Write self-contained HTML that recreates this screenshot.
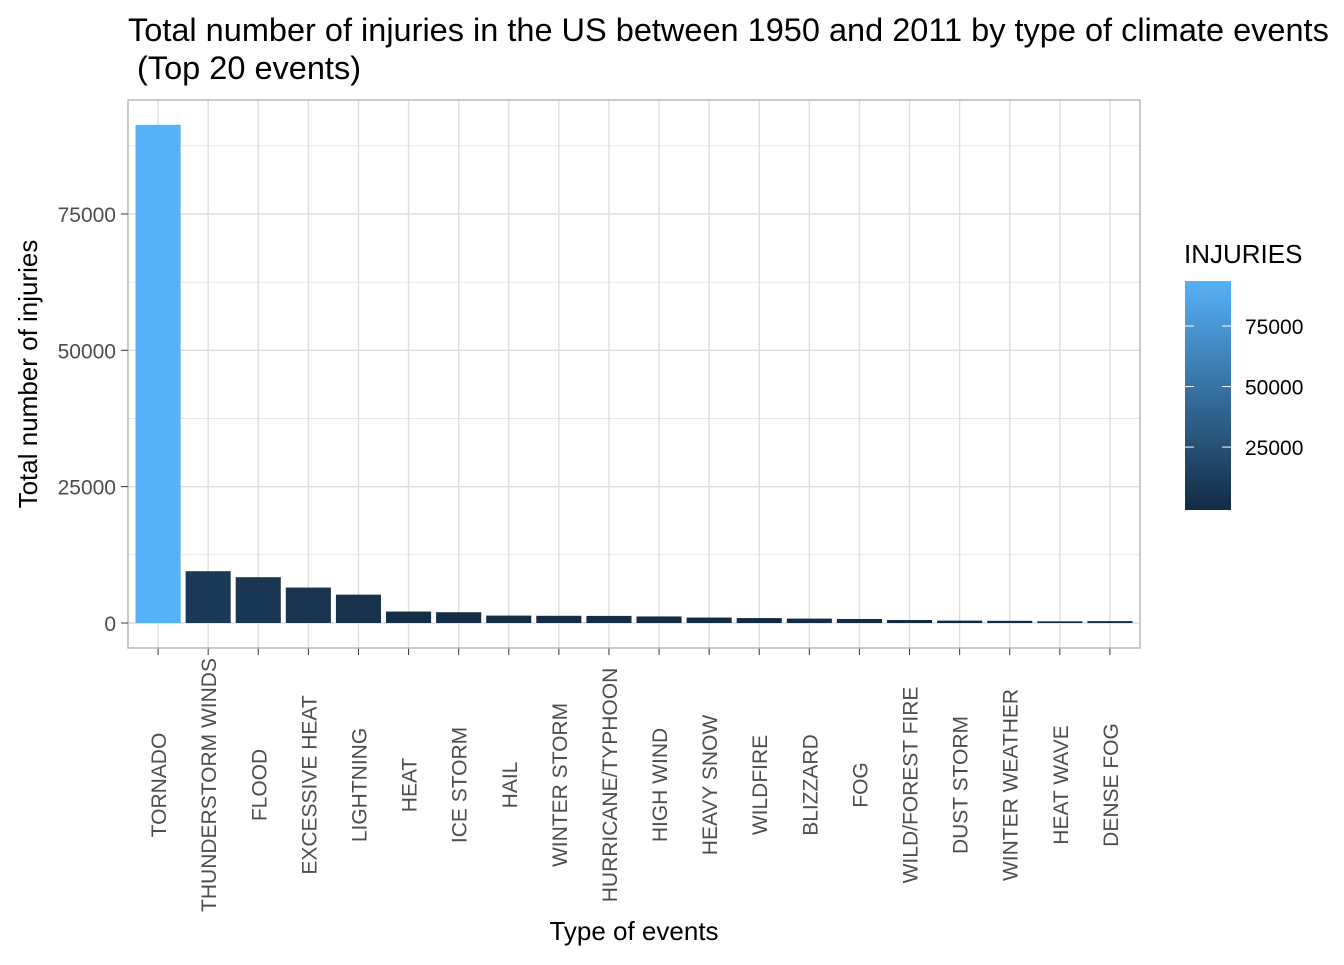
<!DOCTYPE html>
<html><head><meta charset="utf-8"><style>
body{margin:0;background:#fff;font-family:"Liberation Sans",Arial,sans-serif}
</style></head><body>
<svg id="chart" width="1344" height="960" xmlns="http://www.w3.org/2000/svg">
<defs><linearGradient id="cg" x1="0" y1="1" x2="0" y2="0"><stop offset="0" stop-color="#132B43"/><stop offset="1" stop-color="#56B1F7"/></linearGradient></defs>
<text x="128" y="41" font-size="32.5" fill="#000">Total number of injuries in the US between 1950 and 2011 by type of climate events</text>
<text x="128" y="79" font-size="32.5" fill="#000" xml:space="preserve"> (Top 20 events)</text>
<g id="panel"></g>
<text transform="translate(37,374) rotate(-90)" text-anchor="middle" font-size="26" fill="#000">Total number of injuries</text>
<text x="634" y="940" text-anchor="middle" font-size="26" fill="#000">Type of events</text>
<g>
<text x="1184" y="263" font-size="26" fill="#000">INJURIES</text>
<rect x="1185" y="281" width="46" height="229" fill="url(#cg)"/>
<g id="legticks"></g>
</g>
</svg>
<script>
const categories=["TORNADO","THUNDERSTORM WINDS","FLOOD","EXCESSIVE HEAT","LIGHTNING","HEAT","ICE STORM","HAIL","WINTER STORM","HURRICANE/TYPHOON","HIGH WIND","HEAVY SNOW","WILDFIRE","BLIZZARD","FOG","WILD/FOREST FIRE","DUST STORM","WINTER WEATHER","HEAT WAVE","DENSE FOG"];
const injuries=[91346,9500,8400,6500,5200,2100,1975,1360,1321,1300,1200,1000,900,805,734,545,440,400,310,342];
const yTicks=[0,25000,50000,75000];
const legendTicks=[25000,50000,75000];
const NS="http://www.w3.org/2000/svg";
const px0=128,px1=1140,py0=100,py1=648;
const y=v=>623-v*(409/75000);
const step=(px1-px0)/(categories.length-1+1.2);
const x=i=>px0+step*(i+0.6);
function mk(t,a,p){const e=document.createElementNS(NS,t);for(const k in a)e.setAttribute(k,a[k]);p.appendChild(e);return e;}
const panel=document.getElementById('panel');
mk('rect',{x:px0,y:py0,width:px1-px0,height:py1-py0,fill:'#fff'},panel);
for(let v=-12500;v<=90000;v+=12500){const yy=y(v);if(yy<py0||yy>py1)continue;
const l=mk('line',{x1:px0,x2:px1,y1:yy,y2:yy,stroke:'#dedede','stroke-width':v%25000===0?1.4:0.7},panel);

}
categories.forEach((c,i)=>{const l=mk('line',{x1:x(i),x2:x(i),y1:py0,y2:py1,stroke:'#dedede','stroke-width':1.4},panel);

});
const mn=Math.min(...injuries),mx=Math.max(...injuries);
function col(v){const t=(v-mn)/(mx-mn);const a=[0x13,0x2B,0x43],b=[0x56,0xB1,0xF7];return 'rgb('+a.map((q,k)=>Math.round(q+(b[k]-q)*t)).join(',')+')';}
const bw=step*0.9;
categories.forEach((c,i)=>{const r=mk('rect',{x:x(i)-bw/2,y:y(injuries[i]),width:bw,height:y(0)-y(injuries[i]),fill:col(injuries[i])},panel);


const tk=mk('line',{x1:x(i),x2:x(i),y1:py1,y2:py1+7,stroke:'#333','stroke-width':1},panel);


const t=mk('text',{transform:`translate(${x(i)+8},785) rotate(-90)`,'text-anchor':'middle','font-size':21,fill:'#4d4d4d'},panel);t.textContent=c;

});
mk('rect',{x:px0,y:py0,width:px1-px0,height:py1-py0,fill:'none',stroke:'#b3b3b3','stroke-width':1.4},panel);
yTicks.forEach(v=>{const tk=mk('line',{x1:px0-7,x2:px0,y1:y(v),y2:y(v),stroke:'#333'},panel);


const t=mk('text',{x:px0-12,y:y(v)+8,'text-anchor':'end','font-size':21,fill:'#4d4d4d'},panel);t.textContent=v;

});
const lg=document.getElementById('legticks');
const ly=v=>510-(v+1000)*(229/94600);
legendTicks.forEach(v=>{mk('line',{x1:1185,x2:1194,y1:ly(v),y2:ly(v),stroke:'#fff'},lg);mk('line',{x1:1222,x2:1231,y1:ly(v),y2:ly(v),stroke:'#fff'},lg);
const t=mk('text',{x:1245,y:ly(v)+8,'font-size':21,fill:'#000'},lg);t.textContent=v;

});
</script>
</body></html>
